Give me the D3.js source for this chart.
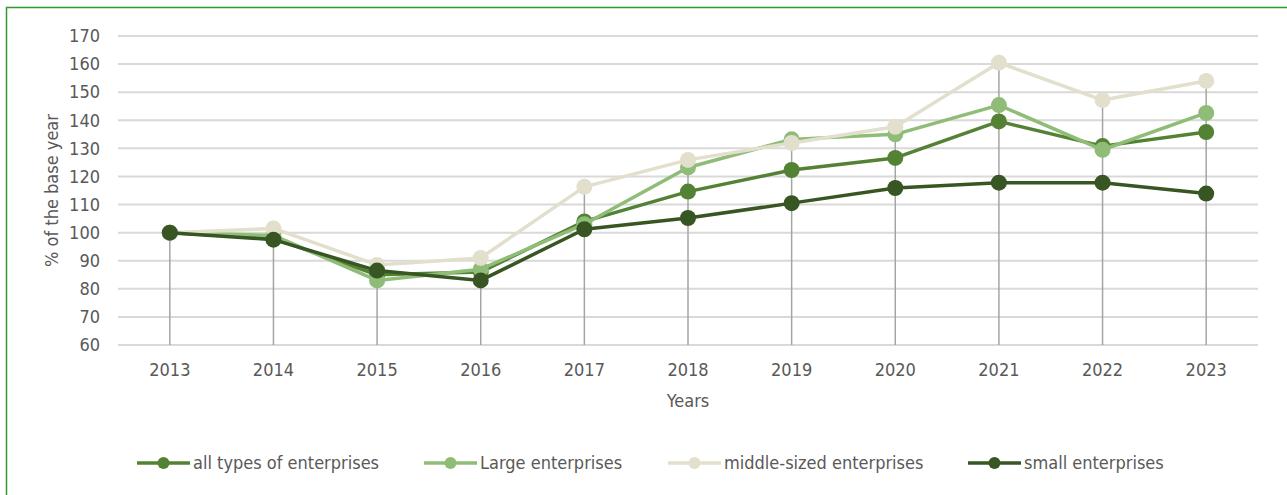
<!DOCTYPE html>
<html>
<head>
<meta charset="utf-8">
<script src="https://cdn.jsdelivr.net/npm/d3@7"></script>
<style>
  body { margin: 0; background: #fff; }
  svg { display: block; font-family: "DejaVu Sans Condensed", "DejaVu Sans", sans-serif; }
</style>
</head>
<body>
<div id="chart"></div>
<script>
// Data
const years = ["2013", "2014", "2015", "2016", "2017", "2018", "2019", "2020", "2021", "2022", "2023"];
const allTypes = [100, 98, 85, 86, 104, 114.6, 122.3, 126.6, 139.6, 130.8, 135.8];
const large = [100, 99, 83, 87, 103, 123.2, 133.2, 135, 145.4, 129.5, 142.6];
const middle = [100, 101.5, 88.5, 91, 116.3, 125.9, 131.9, 137.7, 160.5, 147.2, 154];
const small = [100, 97.5, 86.5, 83, 101.2, 105.2, 110.5, 115.9, 117.8, 117.8, 113.9];
const yTicks = [60, 70, 80, 90, 100, 110, 120, 130, 140, 150, 160, 170];

const seriesNames = ["all types of enterprises", "Large enterprises", "middle-sized enterprises", "small enterprises"];
const seriesColors = ["#548235", "#8fbc76", "#e2dfcd", "#375623"];
const seriesData = [allTypes, large, middle, small];

const W = 1287, H = 495;
const margin = { top: 36, right: 29, bottom: 150, left: 118 };
const width = W - margin.left - margin.right,
  height = H - margin.top - margin.bottom;
const fontSize = "18px";

const svg = d3.select("#chart")
  .append("svg")
  .attr("width", W)
  .attr("height", H);

// green frame (right/bottom edges fall outside the picture)
svg.append("rect")
  .attr("x", 6.5)
  .attr("y", 7.5)
  .attr("width", W)
  .attr("height", H)
  .attr("fill", "none")
  .attr("stroke", "#339933")
  .attr("stroke-width", 1.5);

const g = svg.append("g")
  .attr("transform", `translate(${margin.left},${margin.top})`);

const x = d3.scaleBand()
  .domain(years)
  .range([0, width])
  .padding(0);

const y = d3.scaleLinear()
  .domain([60, 170])
  .range([height, 0]);

// gridlines
g.append("g")
  .selectAll("line")
  .data(yTicks)
  .join("line")
  .attr("x1", 0)
  .attr("x2", width)
  .attr("y1", d => y(d))
  .attr("y2", d => y(d))
  .attr("stroke", "#d9d9d9")
  .attr("stroke-width", 2);

// y axis labels
const yAxis = g.append("g")
  .call(d3.axisLeft(y).tickValues(yTicks).tickSize(0).tickPadding(18));
yAxis.select(".domain").remove();
yAxis.selectAll("text")
  .style("font-size", fontSize)
  .style("font-family", "'DejaVu Sans Condensed', 'DejaVu Sans', sans-serif")
  .attr("fill", "#595959");

// x axis labels
const xAxis = g.append("g")
  .attr("transform", `translate(0,${height})`)
  .call(d3.axisBottom(x).tickSize(0).tickPadding(18));
xAxis.select(".domain").remove();
xAxis.selectAll("text")
  .style("font-size", fontSize)
  .style("font-family", "'DejaVu Sans Condensed', 'DejaVu Sans', sans-serif")
  .attr("fill", "#595959");

// drop lines from the highest point to the axis
g.append("g")
  .selectAll("line")
  .data(years)
  .join("line")
  .attr("x1", d => x(d) + x.bandwidth() / 2)
  .attr("x2", d => x(d) + x.bandwidth() / 2)
  .attr("y1", (d, i) => y(d3.max(seriesData, s => s[i])))
  .attr("y2", height)
  .attr("stroke", "#a5a5a5")
  .attr("stroke-width", 1.5);

// axis titles
g.append("text")
  .attr("x", width / 2)
  .attr("y", height + 62)
  .style("text-anchor", "middle")
  .style("font-size", fontSize)
  .attr("fill", "#595959")
  .text("Years");

g.append("text")
  .attr("transform", "rotate(-90)")
  .attr("x", -(y(170) + y(60)) / 2)
  .attr("y", -margin.left + 58)
  .style("text-anchor", "middle")
  .style("font-size", fontSize)
  .attr("fill", "#595959")
  .text("% of the base year");

// series lines + markers
const line = d3.line()
  .x((d, i) => x(years[i]) + x.bandwidth() / 2)
  .y(d => y(d));

seriesData.forEach((vals, k) => {
  const sg = g.append("g");
  sg.append("path")
    .datum(vals)
    .attr("d", line)
    .attr("fill", "none")
    .attr("stroke", seriesColors[k])
    .attr("stroke-width", 3.5)
    .attr("stroke-linejoin", "round");
  sg.selectAll("circle")
    .data(vals)
    .join("circle")
    .attr("cx", (d, i) => x(years[i]) + x.bandwidth() / 2)
    .attr("cy", d => y(d))
    .attr("r", 8)
    .attr("fill", seriesColors[k]);
});

// legend
const legendX = [137, 424, 668, 968];
const legend = svg.append("g");
seriesNames.forEach((name, k) => {
  const lg = legend.append("g")
    .attr("transform", `translate(${legendX[k]},463)`);
  lg.append("line")
    .attr("x1", 0).attr("x2", 53)
    .attr("stroke", seriesColors[k])
    .attr("stroke-width", 3.5);
  lg.append("circle")
    .attr("cx", 26.5)
    .attr("r", 6)
    .attr("fill", seriesColors[k]);
  lg.append("text")
    .attr("x", 56)
    .attr("dy", "0.35em")
    .style("font-size", fontSize)
    .attr("fill", "#595959")
    .text(name);
});
</script>
</body>
</html>
